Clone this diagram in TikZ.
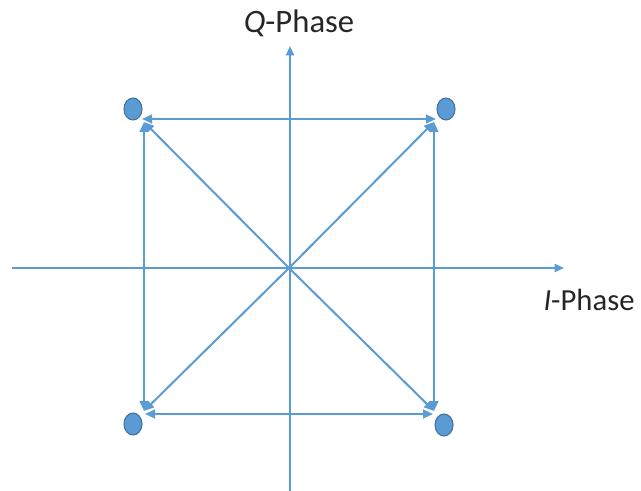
\documentclass[tikz,border=0pt]{standalone}
\usepackage{fontspec}
\setmainfont{Carlito}
\usetikzlibrary{arrows.meta,shapes.geometric}
\definecolor{lineblue}{RGB}{91,155,213}
\definecolor{dotedge}{RGB}{65,113,156}
\begin{document}
\begin{tikzpicture}[x=0.75pt,y=-0.75pt,
  axis/.style={draw=lineblue,line width=1.5pt,-{Triangle[length=7pt,width=6pt]}},
  vec/.style={draw=lineblue,line width=1.5pt,-{Triangle[length=7.5pt,width=6.5pt]}},
  dvec/.style={draw=lineblue,line width=1.5pt,{Triangle[length=7.5pt,width=6.5pt]}-{Triangle[length=7.5pt,width=6.5pt]}},
  dot/.style={ellipse,draw=dotedge,line width=0.8pt,fill=lineblue,minimum width=13.5pt,minimum height=16.5pt,inner sep=0pt},
  lbl/.style={text=black!85,anchor=base,inner sep=0pt}]
\useasboundingbox (0,0) rectangle (641,491);
% axes
\coordinate (o) at (289,268);
\coordinate (xl) at (12,268);
\coordinate (xr) at (564,268);
\coordinate (yb) at (290,491);
\coordinate (yt) at (290,46);
\draw[axis] (xl) -- (xr);
\draw[axis] (yb) -- (yt);
% labels
\node[lbl,font=\fontsize{24.5}{28}\selectfont] (qlab) at (299,33) {\textit{Q}-Phase};
\node[lbl,font=\fontsize{23}{27}\selectfont] (ilab) at (589,310) {\textit{I}-Phase};
% dots
\node[dot] (d1) at (133,109) {};
\node[dot] (d2) at (446,109) {};
\node[dot] (d3) at (133,424) {};
\node[dot] (d4) at (444,425) {};
% corners
\coordinate (tlh) at (142,119);
\coordinate (trh) at (436,119);
\coordinate (blh) at (145,414);
\coordinate (brh) at (433,414);
\coordinate (tlv) at (144,122);
\coordinate (blv) at (144,411);
\coordinate (trv) at (434,122);
\coordinate (brv) at (434,411);
\draw[dvec] (tlh) -- (trh);
\draw[dvec] (blh) -- (brh);
\draw[dvec] (tlv) -- (blv);
\draw[dvec] (trv) -- (brv);
% diagonals
\draw[vec] (o) -- (tlv);
\draw[vec] (o) -- (trv);
\draw[vec] (o) -- (blv);
\draw[vec] (o) -- (brv);
\end{tikzpicture}
\end{document}
